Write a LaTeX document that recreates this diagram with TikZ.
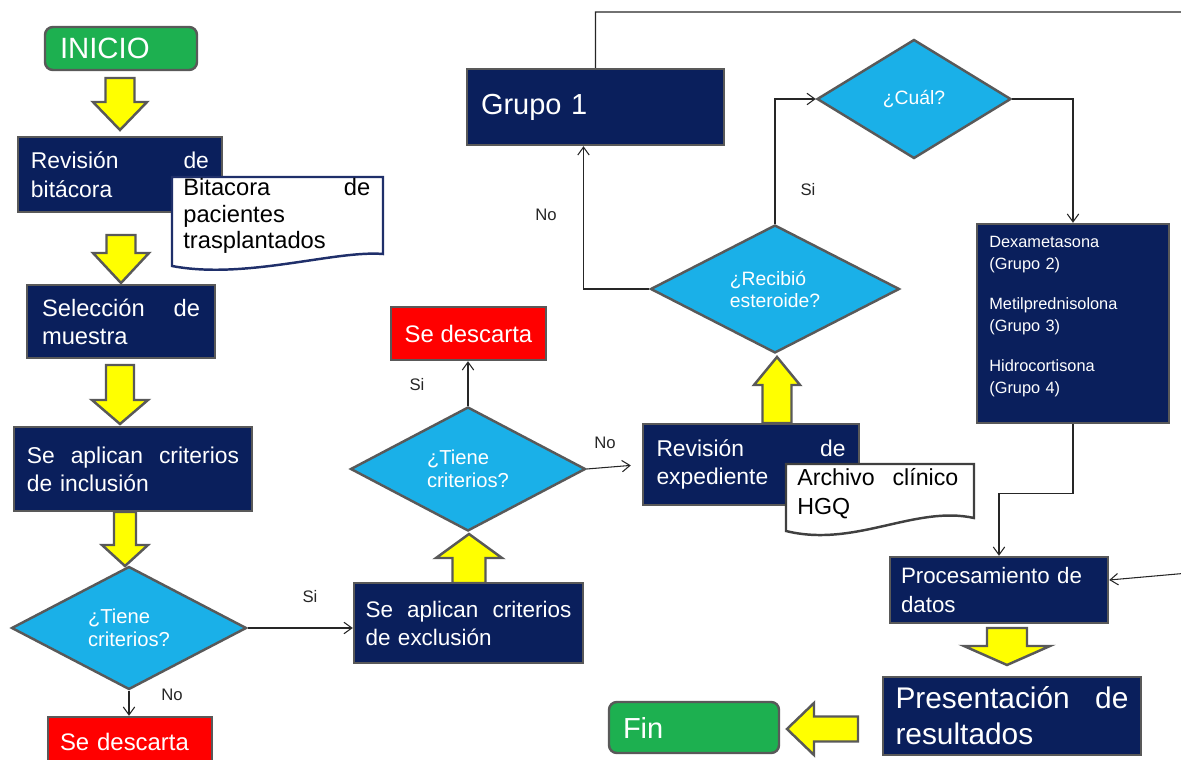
\documentclass[tikz,border=0pt]{standalone}
\usepackage{fontspec}
\setmainfont{Liberation Sans}
\usetikzlibrary{shapes.geometric,arrows.meta}
\newlength\pxl \setlength\pxl{0.02cm}
\definecolor{navy}{HTML}{0A1F5C}
\definecolor{bgray}{HTML}{595959}
\definecolor{dblue}{HTML}{1AB0E8}
\definecolor{fgreen}{HTML}{1DB050}
\definecolor{fred}{HTML}{FF0000}
\definecolor{fyellow}{HTML}{FFFF00}
\definecolor{docnavy}{HTML}{1F2F6A}
\definecolor{docgray}{HTML}{404040}
\newcommand\fsz[2]{\fontsize{#1pt}{#2pt}\selectfont}
\newcommand\yblk[6]{\draw[yarr] ({#1-#5},#2) -- ({#1+#5},#2) -- ({#1+#5},#3) -- ({#1+#6},#3) -- (#1,#4) -- ({#1-#6},#3) -- ({#1-#5},#3) -- cycle;}
\newcommand\yblkh[6]{\draw[yarr] (#2,{#1-#5}) -- (#2,{#1+#5}) -- (#3,{#1+#5}) -- (#3,{#1+#6}) -- (#4,#1) -- (#3,{#1-#6}) -- (#3,{#1-#5}) -- cycle;}
\begin{document}
\begin{tikzpicture}[x=0.02cm,y=-0.02cm,
  bx/.style={draw=bgray, line width=1.4pt, fill=navy, text=white, inner sep=0pt, align=left},
  dia/.style={diamond, draw=bgray, line width=1.4pt, fill=dblue, text=white, inner sep=0pt, align=left, shape aspect=2},
  rnd/.style={rounded corners=4.5pt, draw=bgray, line width=1.4pt, fill=fgreen, text=white, inner sep=0pt, align=left},
  redb/.style={draw=bgray, line width=1.4pt, fill=fred, text=white, inner sep=0pt, align=left},
  conn/.style={draw=black!85, line width=0.6pt, -{Straight Barb[length=4.5pt,width=6.5pt]}},
  lbl/.style={font=\fsz{9.5}{11}, text=black!85, inner sep=0pt},
  yarr/.style={fill=fyellow, draw=bgray, line width=1.4pt, line join=miter},
  doctext/.style={anchor=base west, inner sep=0pt, align=left, text=black}
]
\useasboundingbox (0,0) rectangle (1181,760);
\clip (0,0) rectangle (1181,760);

% yellow block arrows
\yblk{120}{78}{102}{130}{14.5}{27}
\yblk{121}{235}{253}{283}{14.5}{28}
\yblk{120}{365}{400}{424}{14}{28}
\yblk{125}{512}{545}{566}{11}{23}
\yblk{469}{583}{558}{534}{16.5}{33}
\yblk{777}{423}{385}{357}{14.5}{23}
\yblk{1007}{628}{646}{665}{20}{43}
\yblkh{729}{858}{814}{787}{12.5}{26}

% nodes
\node[rnd, minimum width=152\pxl, minimum height=43\pxl, text width=122\pxl, font=\fsz{16.7}{20}] (inicio) at (121,48.5) {INICIO};
\node[bx, minimum width=204\pxl, minimum height=75\pxl, text width=178\pxl, font=\fsz{13}{16.4}] (rev1) at (120,174.5) {Revisión\hfill de\\bitácora};
\draw[fill=white, draw=docnavy, line width=1.4pt] (172,177) -- (383,177) -- (383,254) .. controls (335,250) and (245,280) .. (172,266) -- cycle;
\node[doctext, text width=187\pxl, font=\fsz{13.5}{15}] (doc1) at (183,196) {Bitacora\hfill de\\pacientes\\trasplantados};

\node[bx, minimum width=188\pxl, minimum height=73\pxl, text width=158\pxl, font=\fsz{13.5}{16}] (sel) at (121,321.5) {Selección\hfill de\\muestra};
\node[bx, minimum width=238\pxl, minimum height=84\pxl, text width=212\pxl, font=\fsz{13}{15.9}] (incl) at (133,469) {Se\hfill aplican\hfill criterios\\de inclusión};
\node[dia, minimum width=235\pxl, minimum height=123\pxl, font=\fsz{11.5}{13}] (dia1) at (129,628) {¿Tiene\\criterios?};
\node[redb, minimum width=164\pxl, minimum height=50\pxl, text width=140\pxl, font=\fsz{13.6}{16}] (desc1) at (130,742) {Se descarta};

\node[bx, minimum width=229\pxl, minimum height=80\pxl, text width=206\pxl, font=\fsz{12.8}{15.9}] (excl) at (468.5,623) {Se\hfill aplican\hfill criterios\\de exclusión};
\node[dia, minimum width=235\pxl, minimum height=124\pxl, font=\fsz{11.5}{13}] (dia2) at (468,469) {¿Tiene\\criterios?};
\node[redb, minimum width=155\pxl, minimum height=53\pxl, align=center, font=\fsz{13.6}{16}] (desc2) at (468.5,333.5) {Se descarta};

\node[bx, minimum width=216\pxl, minimum height=81\pxl, text width=189\pxl, font=\fsz{13}{16.4}] (rev2) at (751,464.5) {Revisión\hfill de\\expediente};
\draw[fill=white, draw=docgray, line width=1.4pt] (786,464) -- (974,464) -- (974,518) .. controls (915,505) and (855,548) .. (786,531) -- cycle;
\node[doctext, text width=161\pxl, font=\fsz{13.2}{17}] (doc2) at (797,485) {Archivo\hfill clínico\\HGQ};

\node[dia, minimum width=249\pxl, minimum height=128\pxl, font=\fsz{11}{12.5}] (dia3) at (775,289) {¿Recibió\\esteroide?};
\node[bx, minimum width=257\pxl, minimum height=76\pxl, text width=229\pxl, font=\fsz{16.5}{20}] (grp1) at (595.5,107) {Grupo 1};
\node[dia, minimum width=194\pxl, minimum height=119\pxl, align=center, font=\fsz{11}{13}] (cual) at (914,99) {¿Cuál?};
\node[bx, minimum width=192\pxl, minimum height=199\pxl] (grupos) at (1073,323.5) {};
\node[doctext, text=white, text width=170\pxl, font=\fsz{9.3}{12.5}] (grupost) at (989,248) {Dexametasona\\(Grupo 2)\\[10.2pt]Metilprednisolona\\(Grupo 3)\\[10.2pt]Hidrocortisona\\(Grupo 4)};

\node[bx, minimum width=218\pxl, minimum height=66\pxl, text width=196\pxl, font=\fsz{12.7}{16.4}] (proc) at (999,590) {Procesamiento de\\datos};
\node[bx, minimum width=258\pxl, minimum height=78\pxl, text width=233\pxl, font=\fsz{17}{20.4}] (pres) at (1012,716) {Presentación\hfill de\\resultados};
\node[rnd, minimum width=170\pxl, minimum height=51\pxl, text width=142\pxl, font=\fsz{16.5}{20}] (fin) at (694,727.5) {Fin};

% labels
\node[lbl] (l1) at (172,695) {No};
\node[lbl] (l2) at (310,597) {Si};
\node[lbl] (l3) at (417,385) {Si};
\node[lbl] (l4) at (605,443) {No};
\node[lbl] (l5) at (546,215) {No};
\node[lbl] (l6) at (808,190) {Si};

% connectors
\draw[conn] (dia1.south) -- (dia1.south |- desc1.north);
\draw[conn] (dia1.east) -- (dia1.east -| excl.west);
\draw[conn] (dia2.north) -- (dia2.north |- desc2.south);
\draw[conn, shorten >=11\pxl] (dia2.east) -- (rev2.west);
\draw[conn] (dia3.west) -| ([xshift=-12\pxl]grp1.south);
\draw[conn] (dia3.north) |- (cual.west);
\draw[conn] (cual.east) -| (grupos.north);
\draw[conn] (grupos.south) -- ++(0,69) -| (proc.north);
\coordinate (tr) at (1200,12);
\coordinate (br) at (1200,572);
\draw[conn] (grp1.north) |- (tr) -- (br) -- ([yshift=10\pxl]proc.east);
\end{tikzpicture}
\end{document}
